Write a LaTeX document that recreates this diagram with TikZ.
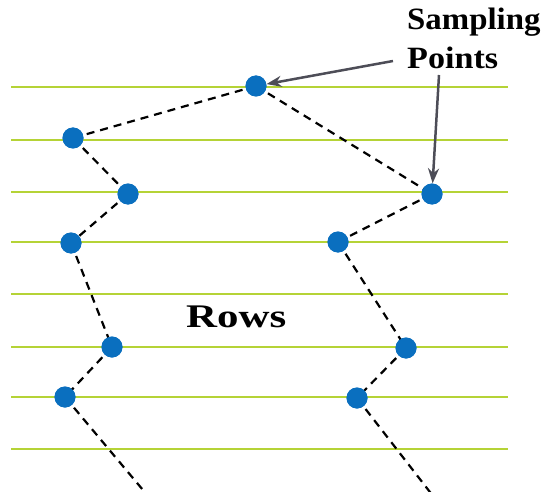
\documentclass[tikz,border=0pt]{standalone}
\usepackage{fontspec}
\setmainfont{Liberation Serif}
\usetikzlibrary{arrows.meta}
\definecolor{rowgreen}{HTML}{B5D336}
\definecolor{dotblue}{HTML}{0A6FBF}
\definecolor{arrowgray}{HTML}{4D4D57}
\tikzset{
  rowline/.style={draw=rowgreen, line width=2.6pt},
  sampledot/.style={circle, fill=dotblue, minimum size=21pt, inner sep=0pt},
  pathdash/.style={draw=black, line width=2.2pt, dash pattern=on 8pt off 6pt},
  pointer/.style={draw=arrowgray, line width=2.5pt, -{Stealth[length=15pt,width=11pt]}},
  labeltext/.style={font=\bfseries, inner sep=0pt}
}
\begin{document}
\begin{tikzpicture}[x=1pt,y=-1pt]
\useasboundingbox (0,0) rectangle (546,492);
\begin{scope}
\clip (0,0) rectangle (546,492);
% row lines
\foreach \yy/\nm in {87/r1,140/r2,192/r3,242/r4,294/r5,347/r6,397/r7,449/r8}{
  \coordinate (\nm a) at (11,\yy);
  \coordinate (\nm b) at (508,\yy);
  \draw[rowline] (\nm a) -- (\nm b);
}
% dots
\node[sampledot] (t)  at (256,86) {};
\node[sampledot] (l1) at (73,138) {};
\node[sampledot] (l2) at (128,194) {};
\node[sampledot] (l3) at (71,243) {};
\node[sampledot] (l4) at (112,347) {};
\node[sampledot] (l5) at (65,397) {};
\node[sampledot] (q1) at (432,194) {};
\node[sampledot] (q2) at (338,242) {};
\node[sampledot] (q3) at (406,348) {};
\node[sampledot] (q4) at (357,398) {};
\coordinate (lend) at (148,496);
\coordinate (qend) at (433,496);
% dashed paths
\draw[pathdash] (t.center) -- (l1.center);
\draw[pathdash] (l1.center) -- (l2.center);
\draw[pathdash] (l2.center) -- (l3.center);
\draw[pathdash] (l3.center) -- (l4.center);
\draw[pathdash] (l4.center) -- (l5.center);
\draw[pathdash] (l5.center) -- (lend);
\draw[pathdash] (t.center) -- (q1.center);
\draw[pathdash] (q1.center) -- (q2.center);
\draw[pathdash] (q2.center) -- (q3.center);
\draw[pathdash] (q3.center) -- (q4.center);
\draw[pathdash] (q4.center) -- (qend);
% redraw dots on top
\foreach \d in {t,l1,l2,l3,l4,l5,q1,q2,q3,q4}{
  \fill[dotblue] (\d) circle (10.5pt);
}
\end{scope}
% labels
\node[labeltext, anchor=base west] (samp) at (407,30) {\fontsize{31pt}{36pt}\selectfont\scalebox{1.06}[1]{Sampling}};
\node[labeltext, anchor=base west] (pts) at (407,69) {\fontsize{31pt}{36pt}\selectfont\scalebox{1.1}[1]{Points}};
\node[labeltext, anchor=base west] (rows) at (186,327) {\fontsize{33pt}{38pt}\selectfont\scalebox{1.3}[1]{Rows}};
% pointers
\coordinate (p1) at (393,61);
\coordinate (p2) at (439,75);
\draw[pointer] (p1) -- (t);
\draw[pointer] (p2) -- (q1);
\end{tikzpicture}
\end{document}
